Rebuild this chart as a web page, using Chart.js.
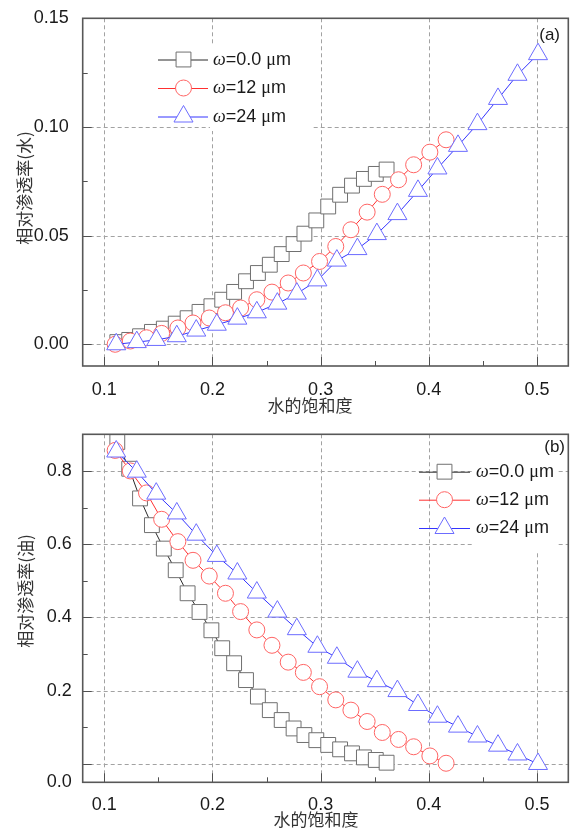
<!DOCTYPE html>
<html><head><meta charset="utf-8">
<script src="https://cdn.jsdelivr.net/npm/chart.js@4.4.1/dist/chart.umd.min.js"></script>
<style>
html,body{margin:0;padding:0;background:#fff;}
#wrap{position:relative;width:571px;height:830px;background:#fff;}
.c{position:absolute;left:0;width:571px;height:415px;}
</style></head><body>
<div id="wrap">
<div class="c" style="top:0"><canvas id="ca" width="571" height="415"></canvas></div>
<div class="c" style="top:415px"><canvas id="cb" width="571" height="415"></canvas></div>
</div>
<script>
// ---- data ----
const seriesLabels = ['ω=0.0 μm', 'ω=12 μm', 'ω=24 μm'];
const xBlack = [0.112,0.123,0.133,0.144,0.155,0.166,0.177,0.188,0.199,0.209,0.220,0.231,0.242,0.253,0.264,0.275,0.285,0.296,0.307,0.318,0.329,0.340,0.351,0.361];
const xRed   = [0.110,0.124,0.139,0.153,0.168,0.182,0.197,0.212,0.226,0.241,0.255,0.270,0.284,0.299,0.314,0.328,0.343,0.357,0.372,0.386,0.401,0.416];
const xBlue  = [0.111,0.130,0.148,0.167,0.185,0.204,0.223,0.241,0.260,0.278,0.297,0.315,0.334,0.352,0.371,0.390,0.408,0.427,0.445,0.464,0.482,0.501];
// (a) relative permeability of water
const krwBlack = [0.001,0.002,0.0037,0.0057,0.0072,0.0095,0.012,0.0149,0.0175,0.0205,0.0241,0.029,0.0328,0.0366,0.0415,0.0461,0.0509,0.057,0.0634,0.0688,0.073,0.0761,0.0784,0.0804];
const krwRed   = [0.000,0.0015,0.003,0.005,0.0075,0.0098,0.0121,0.0145,0.0167,0.0205,0.024,0.0282,0.0328,0.0381,0.045,0.0527,0.0608,0.069,0.0757,0.0826,0.0884,0.0941];
const krwBlue  = [0.000,0.001,0.002,0.0037,0.0063,0.009,0.0118,0.0147,0.0187,0.0233,0.0294,0.0385,0.0438,0.0507,0.0599,0.0706,0.0809,0.0913,0.1013,0.1129,0.124,0.1335];
// (b) relative permeability of oil
const kroBlack = [0.879,0.806,0.725,0.652,0.588,0.529,0.466,0.415,0.365,0.316,0.275,0.229,0.184,0.147,0.120,0.097,0.079,0.065,0.052,0.040,0.029,0.018,0.011,0.0035];
const kroRed   = [0.856,0.800,0.740,0.668,0.607,0.556,0.513,0.466,0.416,0.366,0.324,0.278,0.250,0.211,0.175,0.147,0.116,0.086,0.067,0.047,0.022,0.002];
const kroBlue  = [0.853,0.798,0.738,0.684,0.626,0.568,0.520,0.468,0.416,0.368,0.320,0.290,0.252,0.226,0.199,0.161,0.129,0.102,0.075,0.050,0.026,0.000];
// ticks
const xTicks = [0.1,0.2,0.3,0.4,0.5];
const xMinor = [0.15,0.25,0.35,0.45];
const yTicksA = [0,0.05,0.10,0.15];
const yMinorA = [0.025,0.075,0.125];
const yGridB = [0,0.2,0.4,0.6,0.8];
const yTickPosB = [-0.05,0.2,0.4,0.6,0.8];
const yTickLabelsB = ['0.0','0.2','0.4','0.6','0.8'];
const yMinorB = [0.1,0.3,0.5,0.7];
const xTitle = '水的饱和度';
const yTitleA = '相对渗透率(水)';
const yTitleB = '相对渗透率(油)';

const styles = [
  {line:'#2a2a2a', pt:'#707070', ps:'rect', r:10.5},
  {line:'#ff3030', pt:'#ff6464', ps:'circle', r:8},
  {line:'#3434ff', pt:'#6c6cff', ps:'triangle', r:11}
];
const SANS = '"Liberation Sans", Arial, sans-serif';
const CJK = '"Noto Sans CJK SC", sans-serif';

function mk(xs, ys){ return xs.map((x,i)=>({x:x, y:ys[i]})); }

function drawMarker(ctx, st, x, y){
  ctx.save();
  ctx.beginPath();
  const r = st.r;
  if (st.ps === 'rect') { const s = r*Math.SQRT1_2; ctx.rect(x-s, y-s, 2*s, 2*s); }
  else if (st.ps === 'circle') { ctx.arc(x, y, r, 0, Math.PI*2); }
  else { ctx.moveTo(x, y-r); ctx.lineTo(x+0.866*r, y+0.5*r); ctx.lineTo(x-0.866*r, y+0.5*r); ctx.closePath(); }
  ctx.fillStyle = '#fff'; ctx.fill();
  ctx.strokeStyle = st.pt; ctx.lineWidth = 1; ctx.stroke();
  ctx.restore();
}

function drawLegendText(ctx, label, x, y, size){
  const segs = [];
  for (const ch of label) {
    let f;
    if (ch === 'ω') f = 'italic ' + size + 'px "Liberation Serif", serif';
    else if (ch === 'μ') f = size + 'px "Liberation Serif", serif';
    else f = size + 'px ' + SANS;
    if (segs.length && segs[segs.length-1].f === f) segs[segs.length-1].t += ch;
    else segs.push({t:ch, f:f});
  }
  let cx = x;
  ctx.textBaseline = 'middle'; ctx.textAlign = 'left'; ctx.fillStyle = '#1a1a1a';
  for (const s of segs) { ctx.font = s.f; ctx.fillText(s.t, cx, y); cx += ctx.measureText(s.t).width; }
}

const deco = {
  id: 'deco',
  beforeDatasetsDraw(chart, args, o) {
    const ctx = chart.ctx, xs = chart.scales.x, ys = chart.scales.y, a = chart.chartArea;
    ctx.save();
    ctx.strokeStyle = '#a2a2a2'; ctx.lineWidth = 1; ctx.setLineDash([4,3]);
    for (const v of xTicks) {
      const p = Math.round(xs.getPixelForValue(v)) + 0.5;
      ctx.beginPath(); ctx.moveTo(p, a.top); ctx.lineTo(p, a.bottom); ctx.stroke();
    }
    for (const v of o.gridY) {
      const p = Math.round(ys.getPixelForValue(v)) + 0.5;
      ctx.beginPath(); ctx.moveTo(a.left, p); ctx.lineTo(a.right, p); ctx.stroke();
    }
    ctx.setLineDash([]);
    ctx.fillStyle = '#fff';
    const b = o.box; ctx.fillRect(b[0], b[1], b[2]-b[0], b[3]-b[1]);
    ctx.restore();
  },
  afterDraw(chart, args, o) {
    const ctx = chart.ctx, xs = chart.scales.x, ys = chart.scales.y, a = chart.chartArea;
    ctx.save();
    // ticks (inside)
    ctx.strokeStyle = '#505050'; ctx.lineWidth = 1;
    const tick = (x1,y1,x2,y2)=>{ctx.beginPath();ctx.moveTo(x1,y1);ctx.lineTo(x2,y2);ctx.stroke();};
    for (const v of xTicks) { const p = Math.round(xs.getPixelForValue(v))+0.5; tick(p, a.bottom, p, a.bottom-9); }
    for (const v of xMinor) { const p = Math.round(xs.getPixelForValue(v))+0.5; tick(p, a.bottom, p, a.bottom-5); }
    for (const v of o.majorY) { const p = Math.round(ys.getPixelForValue(v))+0.5; tick(a.left, p, a.left+9, p); }
    for (const v of o.minorY) { const p = Math.round(ys.getPixelForValue(v))+0.5; tick(a.left, p, a.left+5, p); }
    // frame
    ctx.strokeStyle = '#585858'; ctx.lineWidth = 1.6;
    ctx.strokeRect(a.left, a.top, a.right-a.left, a.bottom-a.top);
    // legend
    const L = o.legend;
    chart.data.datasets.forEach((ds, i) => {
      const st = styles[i]; const y = L.rows[i];
      ctx.strokeStyle = st.line; ctx.lineWidth = 1;
      tick(L.x0, y+0.5, L.x1, y+0.5);
      drawMarker(ctx, st, L.mx, y);
      drawLegendText(ctx, ds.label, L.tx, L.ty[i], 18);
    });
    // panel label
    ctx.font = '17px ' + SANS; ctx.fillStyle = '#1a1a1a'; ctx.textAlign = 'right'; ctx.textBaseline = 'middle';
    ctx.fillText(o.tag[0], o.tag[1], o.tag[2]);
    // axis titles
    ctx.font = '17px ' + CJK; ctx.fillStyle = '#333'; ctx.textAlign = 'center';
    ctx.fillText(xTitle, o.xt[0], o.xt[1]);
    ctx.translate(o.yt[1], o.yt[2]); ctx.rotate(-Math.PI/2);
    ctx.fillText(o.yt[0], 0, 0);
    ctx.restore();
  }
};

function build(id, d, cfg){
  const datasets = d.map((ys, i) => {
    const xs = [xBlack, xRed, xBlue][i];
    const st = styles[i];
    return {
      label: seriesLabels[i], data: mk(xs, ys), showLine: true,
      borderColor: st.line, borderWidth: 1, tension: 0,
      pointStyle: st.ps, pointRadius: st.r, pointHoverRadius: st.r,
      pointBackgroundColor: '#fff', pointBorderColor: st.pt, pointBorderWidth: 1,
      order: 3 - i
    };
  });
  return new Chart(document.getElementById(id), {
    type: 'scatter',
    data: { datasets },
    plugins: [deco],
    options: {
      responsive: false, animation: false, devicePixelRatio: 1,
      layout: { autoPadding: false, padding: { top: cfg.padTop, right: 2.7, left: 0, bottom: 0 } },
      plugins: { legend: { display: false }, tooltip: { enabled: false }, deco: cfg.deco },
      scales: {
        x: {
          type: 'linear', min: 0.08, max: 0.529,
          grid: { display: false }, border: { display: false },
          afterBuildTicks: s => { s.ticks = xTicks.map(v => ({value: v})); },
          afterFit: s => { s.height = cfg.xh; s.paddingLeft = 0; s.paddingRight = 0; },
          ticks: { autoSkip: false, maxRotation: 0, padding: cfg.xpad, color: '#1a1a1a',
                   font: { family: SANS, size: 18 }, callback: v => v.toFixed(1) }
        },
        y: {
          type: 'linear', min: cfg.ymin, max: cfg.ymax,
          grid: { display: false }, border: { display: false },
          afterBuildTicks: s => { s.ticks = cfg.yPos.map(v => ({value: v})); },
          afterFit: s => { s.width = 82.7; s.paddingTop = 0; s.paddingBottom = 0; },
          ticks: { autoSkip: false, padding: cfg.ypad, color: '#1a1a1a',
                   font: { family: SANS, size: 18 }, callback: cfg.ylab }
        }
      }
    }
  });
}

build('ca', [krwBlack, krwRed, krwBlue], {
  padTop: 18.3, xh: 49, xpad: 5, ypad: 6, ymin: -0.01, ymax: 0.15,
  yPos: yTicksA, ylab: v => v.toFixed(2),
  deco: {
    gridY: [0, 0.05, 0.10], majorY: [0, 0.05, 0.10], minorY: yMinorA,
    box: [210, 46, 312, 131],
    legend: { x0: 158, x1: 208, mx: 183.5, tx: 213, rows: [59.5, 88, 116.5], ty: [60.5, 88.5, 117] },
    tag: ['(a)', 560, 35.5], xt: [310, 405.5], yt: [yTitleA, 25, 188]
  }
});

build('cb', [kroBlack, kroRed, kroBlue], {
  padTop: 19.3, xh: 47.7, xpad: 4, ypad: 3, ymin: -0.05, ymax: 0.9,
  yPos: yTickPosB, ylab: (v, i) => yTickLabelsB[i],
  deco: {
    gridY: yGridB, majorY: yGridB, minorY: yMinorB,
    box: [472, 19.3, 557, 138],
    legend: { x0: 419, x1: 470, mx: 444.5, tx: 476, rows: [56.7, 84.7, 113], ty: [57.5, 85.5, 113.5] },
    tag: ['(b)', 565, 32.5], xt: [316, 405], yt: [yTitleB, 26, 176]
  }
});
</script>
</body></html>
